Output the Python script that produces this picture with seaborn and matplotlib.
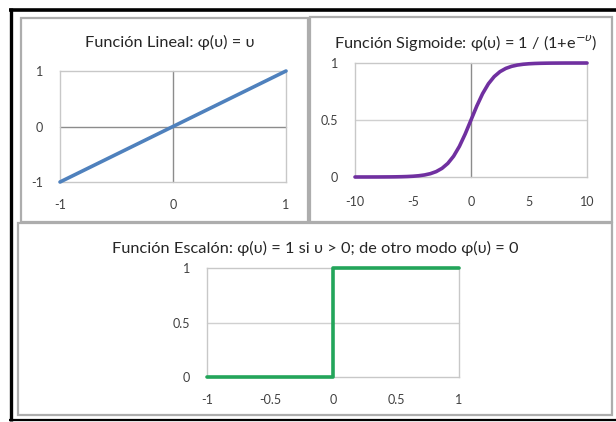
import matplotlib
matplotlib.use("Agg")
import matplotlib.pyplot as plt
from matplotlib.lines import Line2D
from matplotlib.patches import Rectangle
import seaborn as sns
import pandas as pd

sns.set_theme(style="white")
plt.rcParams["font.family"] = ["Lato", "DejaVu Sans"]

# ---- data -------------------------------------------------------------
lin_x = [-1, 1]
lin_y = [-1, 1]

sig_x = [-10, -9.5, -9, -8.5, -8, -7.5, -7, -6.5, -6, -5.5, -5, -4.5, -4, -3.5,
         -3, -2.5, -2, -1.5, -1, -0.5, 0, 0.5, 1, 1.5, 2, 2.5, 3, 3.5, 4, 4.5,
         5, 5.5, 6, 6.5, 7, 7.5, 8, 8.5, 9, 9.5, 10]
sig_y = [0.0000, 0.0001, 0.0001, 0.0002, 0.0003, 0.0006, 0.0009, 0.0015, 0.0025,
         0.0041, 0.0067, 0.0110, 0.0180, 0.0293, 0.0474, 0.0759, 0.1192, 0.1824,
         0.2689, 0.3775, 0.5000, 0.6225, 0.7311, 0.8176, 0.8808, 0.9241, 0.9526,
         0.9707, 0.9820, 0.9890, 0.9933, 0.9959, 0.9975, 0.9985, 0.9991, 0.9994,
         0.9997, 0.9998, 0.9999, 0.9999, 1.0000]

step_x = [-1, 0, 0, 1]
step_y = [0, 0, 1, 1]

lin_xticks = [-1, 0, 1]
lin_yticks = [-1, 0, 1]
sig_xticks = [-10, -5, 0, 5, 10]
sig_yticks = [0, 0.5, 1]
step_xticks = [-1, -0.5, 0, 0.5, 1]
step_yticks = [0, 0.5, 1]

W, H = 616, 422
fig = plt.figure(figsize=(W / 100, H / 100), dpi=100)
fig.patch.set_facecolor("white")


def px_axes(x0, y0, x1, y1):
    return fig.add_axes([x0 / W, 1 - y1 / H, (x1 - x0) / W, (y1 - y0) / H])


def fig_line(xs, ys, color, lw):
    fig.add_artist(Line2D([x / W for x in xs], [1 - y / H for y in ys],
                          transform=fig.transFigure, color=color, lw=lw,
                          solid_capstyle="butt"))


def panel(x0, y0, x1, y1):
    fig.add_artist(Rectangle((x0 / W, 1 - y1 / H), (x1 - x0) / W, (y1 - y0) / H,
                             transform=fig.transFigure, fill=False,
                             edgecolor="#ADADAD", lw=1.6))


BORDER = "#C8C8C8"
AXIS = "#8C8C8C"
GRID = "#D0D0D0"
TICKC = "#404040"
TITLE_SIZE = 11.8


def style(ax, xt, yt, xlim, ylim):
    ax.set_xlim(*xlim)
    ax.set_ylim(*ylim)
    ax.set_xticks(xt)
    ax.set_yticks(yt)
    ax.set_xticklabels([str(v) for v in xt])
    ax.set_yticklabels([str(v) for v in yt])
    for s in ax.spines.values():
        s.set_color(BORDER)
        s.set_linewidth(1.0)
    ax.tick_params(axis="both", labelsize=9, colors=TICKC, length=0)
    ax.tick_params(axis="y", pad=12)
    ax.set_xlabel("")
    ax.set_ylabel("")
    ax.set_facecolor("white")


# outer frame and panel boxes
fig_line([10.5, 10.5], [8, 421], "black", 2.4)
fig_line([9, 616], [10, 10], "black", 2.6)
fig_line([9, 616], [420, 420], "black", 1.6)
panel(21, 18, 308, 222)
panel(310, 17, 612, 222)
panel(18, 223, 612, 415)

# ---- linear ----------------------------------------------------------
ax1 = px_axes(60, 71, 286, 182)
ax1.axhline(0, color=AXIS, lw=1.0, zorder=1)
ax1.axvline(0, color=AXIS, lw=1.0, zorder=1)
sns.lineplot(x=lin_x, y=lin_y, ax=ax1, color="#4F81BD", lw=2.6, zorder=3)
style(ax1, lin_xticks, lin_yticks, (-1, 1), (-1, 1))
ax1.tick_params(axis="x", pad=12)
fig.text(170 / W, 1 - 42 / H, "Función Lineal: φ(υ) = υ", ha="center", va="center",
         fontsize=TITLE_SIZE, color="#262626")

# ---- sigmoid ---------------------------------------------------------
ax2 = px_axes(355, 63, 587, 177)
ax2.axhline(0.5, color=GRID, lw=1.0, zorder=1)
ax2.axvline(0, color=AXIS, lw=1.0, zorder=1)
ax2.spines["bottom"].set_color(AXIS)
sns.lineplot(x=sig_x, y=sig_y, ax=ax2, color="#7030A0", lw=2.6, zorder=3)
style(ax2, sig_xticks, sig_yticks, (-10, 10), (0, 1))
ax2.tick_params(axis="x", length=4, direction="inout", color=AXIS, pad=12)
fig.text(466 / W, 1 - 43 / H, "Función Sigmoide: φ(υ) = 1 / (1+e$^{-\\upsilon}$)",
         ha="center", va="center", fontsize=TITLE_SIZE, color="#262626")

# ---- step ------------------------------------------------------------
ax3 = px_axes(207, 268, 459, 377)
ax3.axhline(0.5, color=GRID, lw=1.0, zorder=1)
ax3.spines["bottom"].set_color(AXIS)
step_df = pd.DataFrame({"u": step_x, "phi": step_y})
sns.lineplot(data=step_df, x="u", y="phi", ax=ax3, color="#23A55A", lw=2.6,
             estimator=None, sort=False, zorder=3)
style(ax3, step_xticks, step_yticks, (-1, 1), (0, 1))
ax3.tick_params(axis="x", length=4, direction="inout", color=AXIS, pad=10)
for ax in (ax1, ax2, ax3):
    for ln in ax.lines:
        ln.set_clip_on(False)
fig.text(315 / W, 1 - 248 / H,
         "Función Escalón: φ(υ) = 1 si υ > 0; de otro modo φ(υ) = 0",
         ha="center", va="center", fontsize=TITLE_SIZE, color="#262626")

fig.savefig("out.png", dpi=100, facecolor="white")
